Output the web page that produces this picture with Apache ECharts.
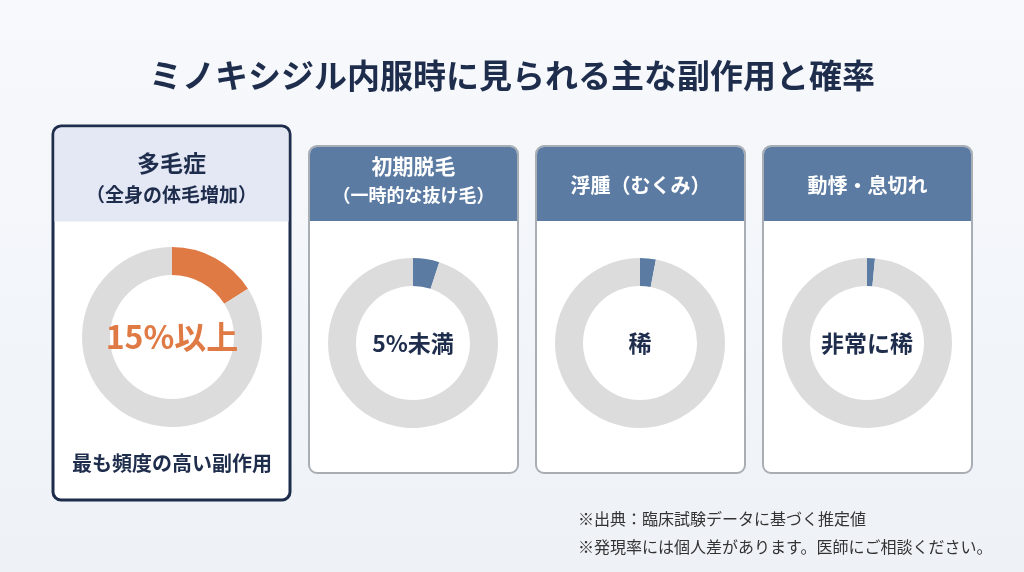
<!DOCTYPE html>
<html><head><meta charset="utf-8">
<script src="https://cdn.jsdelivr.net/npm/echarts@6/dist/echarts.min.js"></script>
<style>html,body{margin:0;padding:0;background:#f3f6fa}#c{width:1024px;height:572px}</style>
</head><body><div id="c"></div>
<script>
const titles = ['多毛症\n（全身の体毛増加）','初期脱毛\n（一時的な抜け毛）','浮腫（むくみ）','動悸・息切れ'];
const labels = ['15%以上','5%未満','稀','非常に稀'];
const values = [16, 5, 3, 1.5];
const notes = ['※出典：臨床試験データに基づく推定値','※発現率には個人差があります。医師にご相談ください。'];
const F = '"Noto Sans CJK JP","Noto Sans",sans-serif';
const chart = echarts.init(document.getElementById('c'));
const cards = [
  {x:53,y:126,w:237,h:374,hh:94,cx:172,cy:337,r:[62,90]},
  {x:309,y:146,w:209,h:327,hh:74,cx:413,cy:343,r:[57,85]},
  {x:536,y:146,w:209,h:327,hh:74,cx:640,cy:343,r:[57,85]},
  {x:763,y:146,w:209,h:327,hh:74,cx:867,cy:343,r:[57,85]}
];
const g = [{type:'rect',shape:{x:0,y:0,width:1024,height:572},style:{fill:{type:'linear',x:0,y:0,x2:0,y2:1,colorStops:[{offset:0,color:'#f7f9fc'},{offset:1,color:'#eef2f7'}]}},z:-10},
{type:'text',x:512,y:75,style:{text:'ミノキシジル内服時に見られる主な副作用と確率',font:'bold 33px '+F,fill:'#1f2d4d',align:'center',verticalAlign:'middle'}}];
const series=[];
cards.forEach((c,i)=>{
  const first=i===0;
  g.push({type:'rect',shape:{x:c.x,y:c.y,width:c.w,height:c.h,r:8},style:{fill:'#fff',stroke:first?'#1f2d4d':'#a9aeb5',lineWidth:first?3:2},z:1});
  g.push({type:'rect',shape:{x:c.x+(first?1.5:1),y:c.y+(first?1.5:1),width:c.w-(first?3:2),height:c.hh,r:[7,7,0,0]},style:{fill:first?'#e4e8f4':'#5b7ba3'},z:2});
  const t=titles[i].split('\n');
  if(t.length===2){
    g.push({type:'text',x:c.x+c.w/2,y:c.y+(first?37:20),style:{text:t[0],font:'bold '+(first?23:21)+'px '+F,fill:first?'#1f2d4d':'#fff',align:'center',verticalAlign:'middle'},z:3});
    g.push({type:'text',x:c.x+c.w/2,y:c.y+(first?69:49),style:{text:t[1],font:'bold '+(first?19:18)+'px '+F,fill:first?'#1f2d4d':'#fff',align:'center',verticalAlign:'middle'},z:3});
  } else g.push({type:'text',x:c.x+c.w/2,y:c.y+39,style:{text:t[0],font:'bold 20px '+F,fill:'#fff',align:'center',verticalAlign:'middle'},z:3});
  series.push({type:'pie',center:[c.cx,c.cy],radius:c.r,startAngle:90,clockwise:true,silent:true,z:5,
    label:{show:true,position:'center',formatter:()=>labels[i],fontFamily:F,fontWeight:'bold',fontSize:first?32:23,color:first?'#e07a45':'#1f2d4d'},
    labelLine:{show:false},emphasis:{disabled:true},
    data:[{value:values[i],itemStyle:{color:first?'#e07a45':'#5b7ba3'}},{value:100-values[i],itemStyle:{color:'#dcdcdc'},label:{show:false}}]});
});
g.push({type:'text',x:172,y:463,style:{text:'最も頻度の高い副作用',font:'bold 20px '+F,fill:'#1f2d4d',align:'center',verticalAlign:'middle'},z:3});
notes.forEach((n,i)=>g.push({type:'text',x:578,y:519+i*28,style:{text:n,font:'16px '+F,fill:'#333',verticalAlign:'middle'},z:3}));
chart.setOption({animation:false,graphic:g,series});
</script></body></html>
